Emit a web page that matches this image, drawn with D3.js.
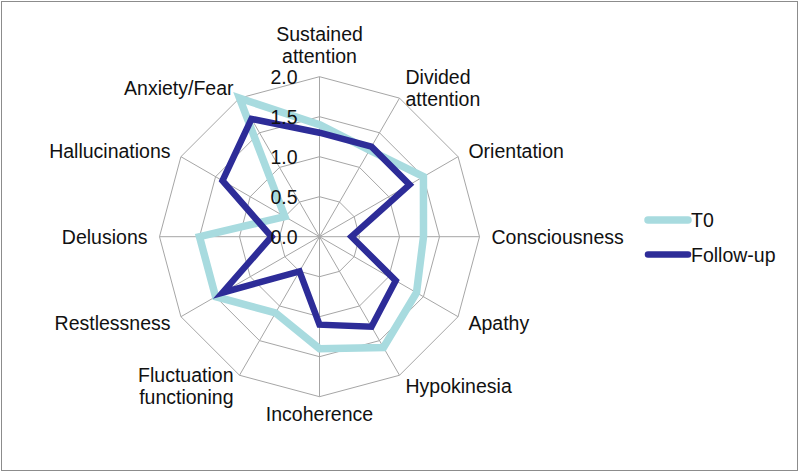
<!DOCTYPE html>
<html>
<head>
<meta charset="utf-8">
<script src="https://cdn.jsdelivr.net/npm/d3@7"></script>
<style>
  body { margin: 0; background: #fff; }
  text { font-family: "Liberation Sans", Arial, sans-serif; fill: #111; }
</style>
</head>
<body>
<svg id="chart" width="800" height="474"></svg>
<script>
// categories, clockwise from the top
var categories = ["Sustained attention", "Divided attention", "Orientation", "Consciousness",
  "Apathy", "Hypokinesia", "Incoherence", "Fluctuation functioning",
  "Restlessness", "Delusions", "Hallucinations", "Anxiety/Fear"];
var t0Values = [1.4, 1.25, 1.5, 1.3, 1.4, 1.6, 1.4, 1.1, 1.5, 1.5, 0.5, 2.0];
var followUpValues = [1.3, 1.3, 1.3, 0.4, 1.1, 1.3, 1.1, 0.5, 1.4, 0.6, 1.4, 1.7];
var tickValues = [0, 0.5, 1.0, 1.5, 2.0];
var seriesNames = ["T0", "Follow-up"];

var svg = d3.select("#chart");
var cx = 319.5, cy = 236.7, R = 160;

// border round the chart
svg.append("rect")
  .attr("x", 1.5).attr("y", 1.5).attr("width", 796).attr("height", 469)
  .attr("fill", "none").attr("stroke", "#8c8c8c").attr("stroke-width", 1);

var r = d3.scaleLinear().domain([0, 2]).range([0, R]);
var angle = d3.scalePoint().domain(d3.range(categories.length + 1)).range([0, 2 * Math.PI]);

function pt(i, v) {
  var a = angle(i);
  return [cx + Math.sin(a) * r(v), cy - Math.cos(a) * r(v)];
}

var g = svg.append("g");

// rings (polygon grid)
tickValues.slice(1).forEach(function(t) {
  g.append("path")
    .attr("d", d3.line()(categories.map(function(c, i) { return pt(i, t); })) + "Z")
    .attr("fill", "none").attr("stroke", "#a6a6a6").attr("stroke-width", 1);
});

// spokes
categories.forEach(function(c, i) {
  var p = pt(i, 2);
  g.append("line")
    .attr("x1", cx).attr("y1", cy).attr("x2", p[0]).attr("y2", p[1])
    .attr("stroke", "#a6a6a6").attr("stroke-width", 1);
});

// series lines
var colors = ["#a8dbdf", "#2d2c98"];
var widths = [7.5, 6.5];
[t0Values, followUpValues].forEach(function(vals, s) {
  g.append("path")
    .attr("d", d3.line()(vals.map(function(v, i) { return pt(i, v); })) + "Z")
    .attr("fill", "none").attr("stroke", colors[s]).attr("stroke-width", widths[s]);
});

// category labels
var fs = 19.5, lh = 22;
categories.forEach(function(c, i) {
  var a = angle(i);
  var p = pt(i, 2);
  var lx = cx + Math.sin(a) * (R + 12);
  var ly = cy - Math.cos(a) * (R + 12);
  var lines = c.split(" ");
  if (c === "Anxiety/Fear" || c === "Consciousness") lines = [c];
  var anchor = Math.sin(a) > 0.1 ? "start" : (Math.sin(a) < -0.1 ? "end" : "middle");
  var y0;
  if (anchor === "middle" && Math.cos(a) > 0) {
    y0 = p[1] - 14 - (lines.length - 1) * lh;
  } else if (anchor === "middle") {
    y0 = p[1] + 24;
  } else {
    y0 = ly - (lines.length - 1) * lh / 2 + 7;
  }
  var txt = g.append("text")
    .attr("text-anchor", anchor)
    .attr("font-size", fs);
  lines.forEach(function(l, k) {
    txt.append("tspan").attr("x", anchor === "middle" ? p[0] : lx).attr("y", y0 + k * lh).text(l);
  });
});

// radial tick labels
tickValues.forEach(function(t) {
  g.append("text")
    .attr("x", cx - 22).attr("y", cy - r(t) + 7)
    .attr("text-anchor", "end")
    .attr("font-size", fs)
    .text(d3.format(".1f")(t));
});

// legend
var legend = svg.append("g");
seriesNames.forEach(function(n, s) {
  var y = 220 + s * 34.5;
  legend.append("line")
    .attr("x1", 648).attr("x2", 688).attr("y1", y).attr("y2", y)
    .attr("stroke", colors[s]).attr("stroke-width", widths[s])
    .attr("stroke-linecap", "round");
  legend.append("text")
    .attr("x", 691).attr("y", y + 7)
    .attr("font-size", fs)
    .text(n);
});
</script>
</body>
</html>
